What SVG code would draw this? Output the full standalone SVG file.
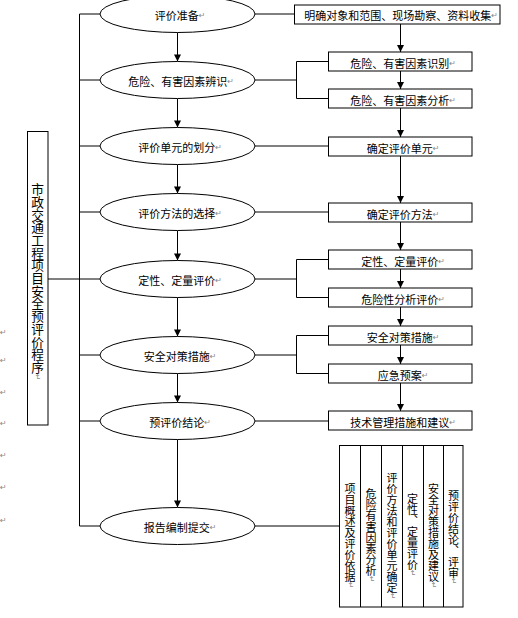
<svg xmlns="http://www.w3.org/2000/svg" width="518" height="618" viewBox="0 0 518 618">
<style>
.bg{fill:#fff}
.ln{stroke:#000;stroke-width:1;fill:none}
.el{fill:#fff;stroke:#000;stroke-width:1}
.bx{fill:#fff;stroke:#000;stroke-width:1}
.t{font-family:"Noto Sans CJK SC","Noto Sans CJK TC",sans-serif;font-size:11px;fill:#000;dominant-baseline:central}
.te{text-anchor:middle}
.v{font-family:"Noto Sans CJK SC","Noto Sans CJK TC",sans-serif;font-size:11px;fill:#000;writing-mode:vertical-rl}
.pm{fill:#888;font-size:8px;font-family:"DejaVu Sans",sans-serif}
</style>
<defs>
<marker id="ah" viewBox="0 0 10 10" refX="10" refY="5" markerWidth="8" markerHeight="7" markerUnits="userSpaceOnUse" orient="auto">
<path d="M0,0 L10,5 L0,10 z" fill="#000"/>
</marker>
</defs>
<rect class="bg" x="0" y="0" width="518" height="618"/>

<g id="connectors">
<line class="ln" x1="79.5" y1="14" x2="79.5" y2="526"/>
<line class="ln" x1="79.5" y1="14" x2="100" y2="14"/>
<line class="ln" x1="79.5" y1="80" x2="100" y2="80"/>
<line class="ln" x1="79.5" y1="146" x2="100" y2="146"/>
<line class="ln" x1="79.5" y1="212" x2="100" y2="212"/>
<line class="ln" x1="48" y1="279" x2="100" y2="279"/>
<line class="ln" x1="79.5" y1="355" x2="100" y2="355"/>
<line class="ln" x1="79.5" y1="421" x2="100" y2="421"/>
<line class="ln" x1="79.5" y1="526" x2="100" y2="526"/>

<line class="ln" x1="177.5" y1="32.5" x2="177.5" y2="61.5" marker-end="url(#ah)"/>
<line class="ln" x1="177.5" y1="98.5" x2="177.5" y2="127.5" marker-end="url(#ah)"/>
<line class="ln" x1="177.5" y1="164.5" x2="177.5" y2="193.5" marker-end="url(#ah)"/>
<line class="ln" x1="177.5" y1="230.5" x2="177.5" y2="260.5" marker-end="url(#ah)"/>
<line class="ln" x1="177.5" y1="297.5" x2="177.5" y2="336.5" marker-end="url(#ah)"/>
<line class="ln" x1="177.5" y1="373.5" x2="177.5" y2="402.5" marker-end="url(#ah)"/>
<line class="ln" x1="177.5" y1="439.5" x2="177.5" y2="507.5" marker-end="url(#ah)"/>

<line class="ln" x1="255" y1="14" x2="294" y2="14"/>
<line class="ln" x1="255" y1="80" x2="296.5" y2="80"/>
<polyline class="ln" points="328,61.5 296.5,61.5 296.5,98.5 328,98.5"/>
<line class="ln" x1="255" y1="146" x2="328" y2="146"/>
<line class="ln" x1="255" y1="212" x2="328" y2="212"/>
<line class="ln" x1="255" y1="279" x2="296.5" y2="279"/>
<polyline class="ln" points="328,259.5 296.5,259.5 296.5,297.5 328,297.5"/>
<line class="ln" x1="255" y1="355" x2="296.5" y2="355"/>
<polyline class="ln" points="328,335.5 296.5,335.5 296.5,373.5 328,373.5"/>
<line class="ln" x1="255" y1="421" x2="328" y2="421"/>
<line class="ln" x1="255" y1="526" x2="339" y2="526"/>

<line class="ln" x1="400.5" y1="24" x2="400.5" y2="52" marker-end="url(#ah)"/>
<line class="ln" x1="400.5" y1="71" x2="400.5" y2="89" marker-end="url(#ah)"/>
<line class="ln" x1="400.5" y1="108" x2="400.5" y2="137" marker-end="url(#ah)"/>
<line class="ln" x1="400.5" y1="156" x2="400.5" y2="203" marker-end="url(#ah)"/>
<line class="ln" x1="400.5" y1="222" x2="400.5" y2="250" marker-end="url(#ah)"/>
<line class="ln" x1="400.5" y1="269" x2="400.5" y2="288" marker-end="url(#ah)"/>
<line class="ln" x1="400.5" y1="307" x2="400.5" y2="326" marker-end="url(#ah)"/>
<line class="ln" x1="400.5" y1="345" x2="400.5" y2="364" marker-end="url(#ah)"/>
<line class="ln" x1="400.5" y1="383" x2="400.5" y2="411" marker-end="url(#ah)"/>
</g>

<g id="title">
<rect class="bx" x="27.5" y="131.5" width="20.5" height="293.5"/>
<text class="v" x="37.5" y="183" style="font-size:12.7px">市政交通工程项目安全预评价程序<tspan class="pm">↵</tspan></text>
</g>

<g id="e1"><ellipse class="el" cx="177.5" cy="14" rx="77.5" ry="18.5"/><text class="t te" x="180" y="15">评价准备<tspan class="pm">↵</tspan></text></g>
<g id="e2"><ellipse class="el" cx="177.5" cy="80" rx="77.5" ry="18.5"/><text class="t te" x="181" y="81">危险、有害因素辨识<tspan class="pm">↵</tspan></text></g>
<g id="e3"><ellipse class="el" cx="177.5" cy="146" rx="77.5" ry="18.5"/><text class="t te" x="180" y="147">评价单元的划分<tspan class="pm">↵</tspan></text></g>
<g id="e4"><ellipse class="el" cx="177.5" cy="212" rx="77.5" ry="18.5"/><text class="t te" x="180" y="213">评价方法的选择<tspan class="pm">↵</tspan></text></g>
<g id="e5"><ellipse class="el" cx="177.5" cy="279" rx="77.5" ry="18.5"/><text class="t te" x="180" y="280">定性、定量评价<tspan class="pm">↵</tspan></text></g>
<g id="e6"><ellipse class="el" cx="177.5" cy="355" rx="77.5" ry="18.5"/><text class="t te" x="180" y="356">安全对策措施<tspan class="pm">↵</tspan></text></g>
<g id="e7"><ellipse class="el" cx="177.5" cy="421" rx="77.5" ry="18.5"/><text class="t te" x="180" y="422">预评价结论<tspan class="pm">↵</tspan></text></g>
<g id="e8"><ellipse class="el" cx="177.5" cy="526" rx="77.5" ry="18.5"/><text class="t te" x="180" y="527">报告编制提交<tspan class="pm">↵</tspan></text></g>

<g id="b1"><rect class="bx" x="294.5" y="5" width="205.5" height="19"/><text class="t te" x="401" y="15">明确对象和范围、现场勘察、资料收集<tspan class="pm">↵</tspan></text></g>
<g id="b2"><rect class="bx" x="328.5" y="52" width="143.5" height="19"/><text class="t te" x="403" y="62.5">危险、有害因素识别<tspan class="pm">↵</tspan></text></g>
<g id="b3"><rect class="bx" x="328.5" y="89" width="143.5" height="19"/><text class="t te" x="403" y="99.5">危险、有害因素分析<tspan class="pm">↵</tspan></text></g>
<g id="b4"><rect class="bx" x="328.5" y="137" width="143.5" height="19"/><text class="t te" x="403" y="147.5">确定评价单元<tspan class="pm">↵</tspan></text></g>
<g id="b5"><rect class="bx" x="328.5" y="203" width="143.5" height="19"/><text class="t te" x="403" y="213.5">确定评价方法<tspan class="pm">↵</tspan></text></g>
<g id="b6"><rect class="bx" x="328.5" y="250" width="143.5" height="19"/><text class="t te" x="403" y="260.5">定性、定量评价<tspan class="pm">↵</tspan></text></g>
<g id="b7"><rect class="bx" x="328.5" y="288" width="143.5" height="19"/><text class="t te" x="403" y="298.5">危险性分析评价<tspan class="pm">↵</tspan></text></g>
<g id="b8"><rect class="bx" x="328.5" y="326" width="143.5" height="19"/><text class="t te" x="403" y="336.5">安全对策措施<tspan class="pm">↵</tspan></text></g>
<g id="b9"><rect class="bx" x="328.5" y="364" width="143.5" height="19"/><text class="t te" x="403" y="374.5">应急预案<tspan class="pm">↵</tspan></text></g>
<g id="b10"><rect class="bx" x="328.5" y="411" width="143.5" height="19"/><text class="t te" x="403" y="421.5">技术管理措施和建议<tspan class="pm">↵</tspan></text></g>

<g id="report-contents">
<rect class="bx" x="339.5" y="445.5" width="123.5" height="161.5"/>
<line class="ln" x1="360.5" y1="445.5" x2="360.5" y2="607"/>
<line class="ln" x1="381.5" y1="445.5" x2="381.5" y2="607"/>
<line class="ln" x1="402.5" y1="445.5" x2="402.5" y2="607"/>
<line class="ln" x1="423.5" y1="445.5" x2="423.5" y2="607"/>
<line class="ln" x1="443.5" y1="445.5" x2="443.5" y2="607"/>
<text class="v" x="350" y="483">项目概述及评价依据<tspan class="pm">↵</tspan></text>
<text class="v" x="371" y="488">危险有害因素分析<tspan class="pm">↵</tspan></text>
<text class="v" x="392" y="472">评价方法和评价单元确定<tspan class="pm">↵</tspan></text>
<text class="v" x="412.5" y="493">定性、定量评价<tspan class="pm">↵</tspan></text>
<text class="v" x="433.5" y="483">安全对策措施及建议<tspan class="pm">↵</tspan></text>
<text class="v" x="453.5" y="490">预评价结论、评审<tspan class="pm">↵</tspan></text>
</g>

<g id="para-marks">
<text class="pm" x="0" y="335">↵</text>
<text class="pm" x="0" y="363">↵</text>
<text class="pm" x="0" y="395">↵</text>
<text class="pm" x="0" y="426">↵</text>
<text class="pm" x="0" y="458">↵</text>
<text class="pm" x="0" y="490">↵</text>
<text class="pm" x="0" y="523">↵</text>
</g>
</svg>
